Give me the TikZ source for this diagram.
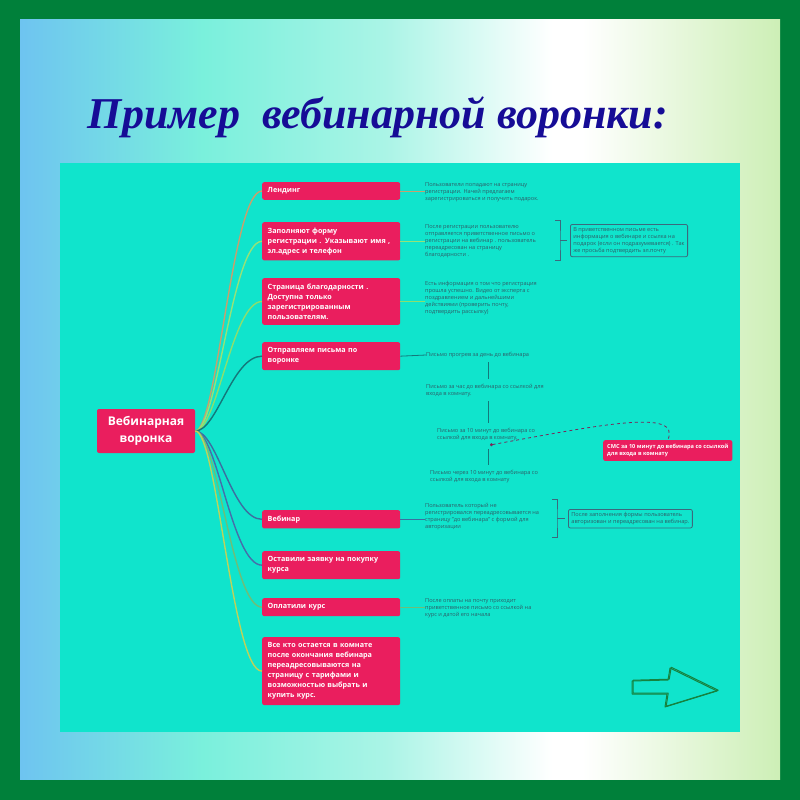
\documentclass[tikz,border=0pt]{standalone}
\usepackage{fontspec}
\setmainfont{Open Sans}
\newfontfamily\titlefont{Liberation Serif}
\usetikzlibrary{positioning,arrows.meta}

\definecolor{frame}{RGB}{0,128,58}
\definecolor{bgblue}{RGB}{110,196,240}
\definecolor{bgaqua}{RGB}{122,240,220}
\definecolor{bglight}{RGB}{170,244,230}
\definecolor{bggreen}{RGB}{205,239,182}
\definecolor{panel}{RGB}{16,228,204}
\definecolor{crimson}{RGB}{234,30,94}
\definecolor{notegray}{RGB}{45,95,105}
\definecolor{boxgray}{RGB}{60,105,125}
\definecolor{titleblue}{RGB}{22,12,150}
\definecolor{sketchgreen}{RGB}{22,130,62}
\definecolor{smsline}{RGB}{120,40,90}
\definecolor{brA}{RGB}{200,160,110}
\definecolor{brB}{RGB}{150,226,120}
\definecolor{brC}{RGB}{140,222,110}
\definecolor{brD}{RGB}{20,120,122}
\definecolor{brE}{RGB}{60,110,160}
\definecolor{brF}{RGB}{70,110,170}
\definecolor{brG}{RGB}{110,190,120}
\definecolor{brH}{RGB}{190,210,90}

\pgfdeclarehorizontalshading{bgshade}{100bp}{color(0bp)=(bgblue); color(25bp)=(bgblue); color(37bp)=(bgaqua); color(49bp)=(bglight); color(60bp)=(white); color(62bp)=(white); color(75bp)=(bggreen); color(100bp)=(bggreen)}

\begin{document}
\begin{tikzpicture}[x=1pt,y=-1pt,
  rootbox/.style={fill=crimson,rounded corners=2pt,text=white,
    font=\fontsize{12}{16.5}\selectfont\bfseries,align=center,minimum width=98pt,minimum height=44pt},
  stepbox/.style={fill=crimson,rounded corners=2pt,text=white,
    font=\fontsize{7.2}{10}\selectfont\bfseries,align=left,text width=127pt,
    inner xsep=5.5pt,inner ysep=5.5pt,anchor=north west},
  notetext/.style={text=notegray,font=\fontsize{5.6}{7}\selectfont,align=left,inner sep=0pt,anchor=north west},
  notebox/.style={notetext,draw=boxgray,rounded corners=2pt,inner sep=3pt,line width=0.8pt},
  smsbox/.style={fill=crimson,rounded corners=2pt,text=white,font=\fontsize{5.6}{7}\selectfont\bfseries,
    align=left,inner sep=4pt,anchor=north west},
  branch/.style={line width=1.4pt},
  link/.style={line width=0.8pt},
  chain/.style={draw=brD,line width=0.8pt,shorten <=4pt,shorten >=5pt},
  bracket/.style={draw=boxgray,line width=0.8pt},
  sketch/.style={draw=sketchgreen,line width=1pt,line join=round}]
\useasboundingbox (0,0) rectangle (800,800);

% background
\fill[frame] (0,0) rectangle (800,800);
\shade[shading=bgshade] (20,20) rectangle (780,779);
\fill[panel] (60,163) rectangle (740,732);

\path (378,128) node[anchor=base,text=titleblue,font=\titlefont\fontsize{44}{50}\bfseries\itshape\selectfont] (title) {Пример\ \ вебинарной воронки:};

% mind map
\path (146,431) node[rootbox] (root) {Вебинарная\\воронка};

\path (262,182) node[stepbox] (land) {Лендинг};
\path (262,222) node[stepbox] (form) {Заполняют форму\\регистрации . Указывают имя ,\\эл.адрес и телефон};
\path (262,278) node[stepbox] (thanks) {Страница благодарности .\\Доступна только\\зарегистрированным\\пользователям.};
\path (262,342) node[stepbox] (mails) {Отправляем письма по\\воронке};
\path (262,510) node[stepbox] (webinar) {Вебинар};
\path (262,551) node[stepbox] (request) {Оставили заявку на покупку\\курса};
\path (262,598) node[stepbox] (paid) {Оплатили курс};
\path (262,637) node[stepbox] (stay) {Все кто остается в комнате\\после окончания вебинара\\переадресовываются на\\страницу с тарифами и\\возможностью выбрать и\\купить курс.};

\foreach \n/\c in {land/brA,form/brB,thanks/brC,mails/brD,webinar/brE,request/brF,paid/brG,stay/brH}
{
	\draw[branch,\c] (root.east) .. controls +(22,0) and +(-30,0) .. (\n.west);
}

% notes
\path (425,182) node[notetext] (dland) {Пользователи попадают на страницу\\регистрации. Начей предлагаем\\зарегистрироваться и получить подарок.};
\path (425,224) node[notetext] (dform) {После регистрации пользователю\\отправляется приветственное письмо о\\регистрации на вебинар . пользователь\\переадресован на страницу\\благодарности .};
\path (425,281) node[notetext] (dthanks) {Есть информация о том что регистрация\\прошла успешно. Видео от эксперта с\\поздравлением и дальнейшими\\действиями (проверить почту,\\подтвердить рассылку)};
\path (425,503) node[notetext] (dwebinar) {Пользователь который не\\регистрировался переадресовывается на\\страницу "до вебинара" с формой для\\авторизации};
\path (425,598) node[notetext] (dpaid) {После оплаты на почту приходит\\приветственное письмо со ссылкой на\\курс и датой его начала};

\foreach \n/\d/\c in {land/dland/brA,form/dform/brB,thanks/dthanks/brC,webinar/dwebinar/brE,paid/dpaid/brG}
{
	\draw[link,\c] (\n.east) -- (\n.east -| \d.west);
}

\path (570,224) node[notebox] (nform) {В приветственном письме есть\\информация о вебинаре и ссылка на\\подарок (если он подразумевается) . Так\\же просьба подтвердить эл.почту};
\path (568,509) node[notebox] (nwebinar) {После заполнения формы пользователь\\авторизован и переадресован на вебинар.};

\draw[bracket] ([xshift=-15pt,yshift=20pt]nform.west) -| ([xshift=-10pt]nform.west) |- ([xshift=-15pt,yshift=-20pt]nform.west);
\draw[bracket] ([xshift=-10pt]nform.west) -- ([xshift=-3pt]nform.west);
\draw[bracket] ([xshift=-16pt,yshift=19pt]nwebinar.west) -| ([xshift=-11pt]nwebinar.west) |- ([xshift=-16pt,yshift=-19pt]nwebinar.west);
\draw[bracket] ([xshift=-11pt]nwebinar.west) -- ([xshift=-3pt]nwebinar.west);

% letters
\path (426,355) node[notetext,anchor=west] (m1) {Письмо прогрев за день до вебинара};
\path (426,384) node[notetext] (m2) {Письмо за час до вебинара со ссылкой для\\входа в комнату.};
\path (437,428) node[notetext] (m3) {Письмо за 10 минут до вебинара со\\ссылкой для входа в комнату.};
\path (430,470) node[notetext] (m4) {Письмо через 10 минут до вебинара со\\ссылкой для входа в комнату};
\coordinate (spine) at (488,0);
\coordinate (dot) at (490,445);

\draw[link,brD] (mails.east) -- (m1.west);
\draw[chain] (m1.south -| spine) -- (m2.north -| spine);
\draw[chain] (m2.south -| spine) -- (m3.north -| spine);
\draw[chain] (dot -| spine) -- (m4.north -| spine);

\path (603,440) node[smsbox] (sms) {СМС за 10 минут до вебинара со ссылкой\\для входа в комнату};
\draw[smsline,dashed,line width=0.8pt,{Circle[length=3pt]}-] (dot) .. controls (600,425) and (682,408) .. (sms.north);

% hand drawn arrow
\foreach \dx/\dy in {0/0, 1.2/-0.8}
{
	\draw[sketch,shift={(\dx,\dy)}] (632,681) -- (668,680) -- (670,668) -- (717,691) -- (665,707) -- (667,694) -- (632,694) -- cycle;
}
\end{tikzpicture}
\end{document}
